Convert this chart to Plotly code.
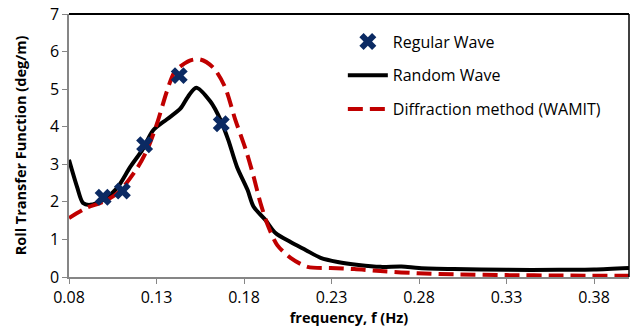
import plotly.graph_objects as go

# Regular wave (experimental points)
reg_f = [0.0995, 0.1105, 0.1232, 0.1430, 0.1670]
reg_v = [2.12, 2.29, 3.52, 5.36, 4.08]

# Random wave (measured curve)
rand_f = [0.080, 0.0846, 0.088, 0.092, 0.0995, 0.1075, 0.115, 0.122, 0.128, 0.136,
          0.1436, 0.148, 0.1527, 0.1608, 0.1665, 0.171, 0.176, 0.182, 0.1855, 0.1922,
          0.198, 0.2066, 0.2152, 0.2238, 0.2335, 0.2455, 0.258, 0.270, 0.280, 0.300,
          0.330, 0.360, 0.380, 0.400]
rand_v = [3.12, 2.40, 1.97, 1.92, 2.05, 2.37, 2.93, 3.39, 3.90, 4.20,
          4.48, 4.80, 5.04, 4.67, 4.19, 3.65, 2.93, 2.32, 1.87, 1.52,
          1.17, 0.93, 0.72, 0.51, 0.40, 0.32, 0.27, 0.28, 0.24, 0.21,
          0.19, 0.19, 0.20, 0.24]

# Diffraction method (WAMIT)
wam_f = [0.080, 0.090, 0.0995, 0.108, 0.119, 0.1247, 0.1304, 0.136, 0.1405, 0.149,
         0.155, 0.1625, 0.169, 0.175, 0.181, 0.1855, 0.1894, 0.194, 0.199, 0.2066,
         0.2163, 0.2295, 0.243, 0.260, 0.279, 0.300, 0.330, 0.360, 0.400]
wam_v = [1.57, 1.84, 2.00, 2.24, 2.90, 3.39, 4.10, 4.95, 5.47, 5.76,
         5.79, 5.57, 5.07, 4.19, 3.39, 2.67, 1.97, 1.33, 0.85, 0.51,
         0.27, 0.24, 0.21, 0.15, 0.10, 0.07, 0.05, 0.04, 0.03]

x_ticks = [0.08, 0.13, 0.18, 0.23, 0.28, 0.33, 0.38]
y_ticks = [0, 1, 2, 3, 4, 5, 6, 7]

FONT = "Open Sans"
AXIS_GREY = "#868686"

fig = go.Figure()
fig.add_trace(go.Scatter(
    x=rand_f, y=rand_v, mode="lines", name="Random Wave", legendgroup="b", legendrank=2,
    line=dict(color="black", width=4, shape="spline", smoothing=0.8),
))
fig.add_trace(go.Scatter(
    x=wam_f, y=wam_v, mode="lines", name="Diffraction method (WAMIT)", legendgroup="c",
    legendrank=3,
    line=dict(color="#C00000", width=4, shape="spline", smoothing=0.8, dash="15px,7px"),
))
fig.add_trace(go.Scatter(
    x=reg_f, y=reg_v, mode="markers", name="Regular Wave", legendgroup="a", legendrank=1,
    marker=dict(symbol="x", size=15, color="#0B2A63", line=dict(width=0)),
))

fig.update_layout(
    width=639, height=333,
    margin=dict(l=69, r=10, t=14, b=56, autoexpand=False),
    paper_bgcolor="white", plot_bgcolor="white",
    font=dict(family=FONT, size=16, color="black"),
    showlegend=True,
    legend=dict(
        x=0.489, y=0.96, xanchor="left", yanchor="top",
        bgcolor="rgba(0,0,0,0)", font=dict(family=FONT, size=16, color="black"),
        tracegroupgap=10, traceorder="grouped", itemwidth=40,
    ),
    xaxis=dict(
        range=[0.08, 0.40], tickvals=x_ticks, ticktext=[f"{v:.2f}" for v in x_ticks],
        showgrid=False, zeroline=False, showline=True, linecolor=AXIS_GREY, linewidth=1.5,
        ticks="outside", ticklen=5, tickcolor=AXIS_GREY, tickfont=dict(size=16),
        automargin=False,
        title=dict(text="<b>frequency, f (Hz)</b>", font=dict(size=14.5), standoff=4),
    ),
    yaxis=dict(
        range=[0, 7], tickvals=y_ticks,
        showgrid=False, zeroline=False, showline=True, linecolor=AXIS_GREY, linewidth=1.5,
        ticks="outside", ticklen=5, tickcolor=AXIS_GREY, tickfont=dict(size=16),
        automargin=False,
        title=dict(text="<b>Roll Transfer Function (deg/m)</b>", font=dict(size=14.5),
                   standoff=20),
    ),
    shapes=[
        dict(type="line", xref="paper", yref="paper", x0=0, x1=1, y0=1, y1=1,
             line=dict(color="black", width=2)),
        dict(type="line", xref="paper", yref="paper", x0=1, x1=1, y0=0, y1=1,
             line=dict(color="black", width=1.5)),
    ],
)

fig.write_html(
    "out.html",
    config={"displayModeBar": False},
    post_script="document.body.style.margin='0';document.body.style.overflow='hidden';",
)
